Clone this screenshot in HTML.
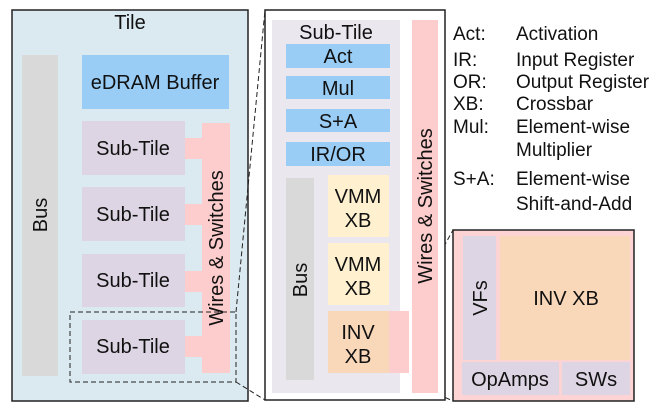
<!DOCTYPE html>
<html><head><meta charset="utf-8"><style>html,body{margin:0;padding:0;background:#fff}svg{display:block}</style></head><body>
<svg width="664" height="416" viewBox="0 0 664 416" xmlns="http://www.w3.org/2000/svg" font-family="Liberation Sans, sans-serif" fill="#111">
<!-- Tile -->
<rect x="12" y="10" width="236" height="391" fill="#dbeaf0" stroke="#222" stroke-width="1.5"/>
<text x="130" y="29" font-size="20" text-anchor="middle">Tile</text>
<rect x="22" y="55" width="36" height="321" fill="#d9d9d9"/>
<text transform="translate(47,215) rotate(-90)" font-size="20" text-anchor="middle">Bus</text>
<rect x="82" y="55" width="147" height="54" fill="#99cdf6"/>
<text x="155" y="89" font-size="20" text-anchor="middle">eDRAM Buffer</text>
<g fill="#fdcccc">
<rect x="202" y="123" width="28" height="250"/>
<rect x="185" y="138" width="18" height="21"/>
<rect x="185" y="204" width="18" height="21"/>
<rect x="185" y="271" width="18" height="21"/>
<rect x="185" y="336" width="18" height="21"/>
</g>
<g fill="#ddd5e3">
<rect x="82" y="121" width="103" height="54"/>
<rect x="82" y="187" width="103" height="54"/>
<rect x="82" y="254" width="103" height="53"/>
<rect x="82" y="320" width="103" height="54"/>
</g>
<g font-size="20" text-anchor="middle">
<text x="133" y="155">Sub-Tile</text>
<text x="133" y="221">Sub-Tile</text>
<text x="133" y="287">Sub-Tile</text>
<text x="133" y="353">Sub-Tile</text>
</g>
<text transform="translate(223,248) rotate(-90)" font-size="20" text-anchor="middle">Wires &amp; Switches</text>
<g fill="none" stroke="#222" stroke-width="1" stroke-dasharray="5,3">
<rect x="70" y="312" width="166" height="70"/>
<line x1="236" y1="312" x2="265" y2="10"/>
<line x1="236" y1="382" x2="265" y2="400"/>
<rect x="320" y="310" width="89" height="71"/>
<line x1="409" y1="310" x2="453" y2="230"/>
<line x1="409" y1="381" x2="453" y2="401"/>
</g>
<!-- Middle -->
<rect x="265" y="10" width="180" height="390" fill="#fff" stroke="#222" stroke-width="1.5"/>
<rect x="272" y="20" width="128" height="373" fill="#ebe7ef"/>
<rect x="412" y="20" width="26" height="373" fill="#fdcccc"/>
<text x="336" y="39" font-size="20" text-anchor="middle">Sub-Tile</text>
<g fill="#99cdf6">
<rect x="286" y="44" width="104" height="24"/>
<rect x="286" y="76" width="104" height="23"/>
<rect x="286" y="109" width="104" height="23"/>
<rect x="286" y="142" width="104" height="24"/>
</g>
<g font-size="20" text-anchor="middle">
<text x="338" y="63">Act</text>
<text x="338" y="95">Mul</text>
<text x="338" y="128">S+A</text>
<text x="338" y="161">IR/OR</text>
</g>
<rect x="286" y="178" width="28" height="202" fill="#d9d9d9"/>
<text transform="translate(307,280) rotate(-90)" font-size="20" text-anchor="middle">Bus</text>
<rect x="328" y="175" width="61" height="62" fill="#fff1d0"/>
<rect x="328" y="243" width="61" height="62" fill="#fff1d0"/>
<rect x="389" y="311" width="20" height="62" fill="#fdcccc"/>
<rect x="328" y="311" width="61" height="62" fill="#f9d7b9"/>
<g font-size="20" text-anchor="middle">
<text x="358" y="203">VMM</text><text x="358" y="227">XB</text>
<text x="358" y="271">VMM</text><text x="358" y="295">XB</text>
<text x="358" y="339">INV</text><text x="358" y="363">XB</text>
</g>
<text transform="translate(432,206) rotate(-90)" font-size="20" text-anchor="middle">Wires &amp; Switches</text>
<!-- Right -->
<rect x="453" y="230" width="181" height="171" fill="#fdd3d3" stroke="#222" stroke-width="1.5"/>
<rect x="463" y="236" width="33" height="124" fill="#ddd5e3"/>
<rect x="500" y="236" width="130" height="124" fill="#f9d7b9"/>
<rect x="462" y="362" width="97" height="33" fill="#ddd5e3"/>
<rect x="562" y="362" width="68" height="33" fill="#ddd5e3"/>
<text transform="translate(487,298) rotate(-90)" font-size="20" text-anchor="middle">VFs</text>
<text x="566" y="305" font-size="20" text-anchor="middle">INV XB</text>
<text x="510" y="386" font-size="20" text-anchor="middle">OpAmps</text>
<text x="596" y="386" font-size="20" text-anchor="middle">SWs</text>
<!-- Legend -->
<g font-size="19">
<text x="453" y="40">Act:</text><text x="516" y="40">Activation</text>
<text x="453" y="66">IR:</text><text x="516" y="66">Input Register</text>
<text x="453" y="88">OR:</text><text x="516" y="88">Output Register</text>
<text x="453" y="110">XB:</text><text x="516" y="110">Crossbar</text>
<text x="453" y="133">Mul:</text><text x="516" y="133">Element-wise</text>
<text x="516" y="156">Multiplier</text>
<text x="453" y="185">S+A:</text><text x="516" y="185">Element-wise</text>
<text x="516" y="210">Shift-and-Add</text>
</g>
</svg>
</body></html>
